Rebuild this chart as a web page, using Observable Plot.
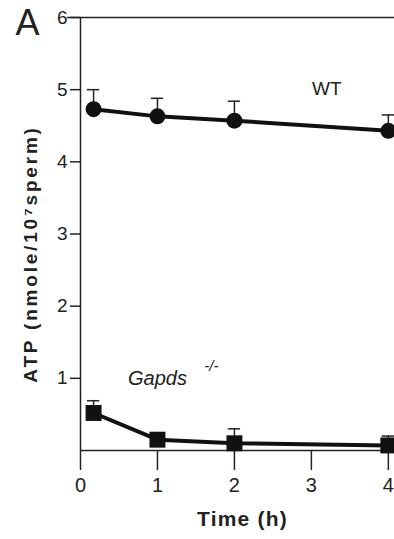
<!DOCTYPE html>
<html>
<head>
<meta charset="utf-8">
<script src="https://cdn.jsdelivr.net/npm/d3@7"></script>
<script src="https://cdn.jsdelivr.net/npm/@observablehq/plot@0.6"></script>
<style>
  html, body { margin: 0; padding: 0; background: #fff; }
  #chart svg { display: block; }
  .ylab text { letter-spacing: 2.8px; }
  .xlab text { letter-spacing: 1.2px; }
</style>
</head>
<body>
<div id="chart"></div>
<script>
const times = [0.17, 1, 2, 4];
const wtMean = [4.73, 4.63, 4.57, 4.43];
const wtErr = [0.27, 0.25, 0.27, 0.22];
const koMean = [0.52, 0.15, 0.1, 0.07];
const koErr = [0.17, 0.06, 0.2, 0.13];
const xTicks = [0, 1, 2, 3, 4];
const yTicks = [1, 2, 3, 4, 5, 6];

const wt = times.map((t, i) => ({t, v: wtMean[i], e: wtErr[i]}));
const ko = times.map((t, i) => ({t, v: koMean[i], e: koErr[i]}));
const font = "Liberation Sans, Arial, Helvetica, sans-serif";
const capW = 0.08;
const fmt = d3.format("d");

const plot = Plot.plot({
  width: 394,
  height: 539,
  marginLeft: 80,
  marginRight: 0,
  marginTop: 17,
  marginBottom: 89,
  style: {fontFamily: font, fontSize: "17px", background: "#fff", color: "#222"},
  x: {domain: [0, 4.08], range: [80, 394]},
  y: {domain: [0, 6]},
  marks: [
    Plot.ruleY([0], {x1: 0, x2: 4.08, stroke: "#222", strokeWidth: 1.5}),
    Plot.ruleY([6], {x1: -0.17, x2: 4.08, stroke: "#222", strokeWidth: 1.5}),
    Plot.ruleX([0], {y1: 0, y2: 6, stroke: "#222", strokeWidth: 1.5}),
    Plot.axisX({ticks: xTicks, tickFormat: fmt, tickSize: 20, tickPadding: 7, fontSize: 20, label: null, strokeWidth: 1.5}),
    Plot.axisY({ticks: yTicks, tickFormat: fmt, tickSize: 10, tickPadding: 3, fontSize: 19, label: null, strokeWidth: 1.5}),
    // error bars (upper only)
    Plot.ruleX(wt, {x: "t", y1: "v", y2: d => d.v + d.e, stroke: "#222", strokeWidth: 1.5}),
    Plot.ruleY(wt, {y: d => d.v + d.e, x1: d => d.t - capW, x2: d => d.t + capW, stroke: "#222", strokeWidth: 1.5}),
    Plot.ruleX(ko, {x: "t", y1: "v", y2: d => d.v + d.e, stroke: "#222", strokeWidth: 1.5}),
    Plot.ruleY(ko, {y: d => d.v + d.e, x1: d => d.t - capW, x2: d => d.t + capW, stroke: "#222", strokeWidth: 1.5}),
    // lines
    Plot.line(wt, {x: "t", y: "v", stroke: "#111", strokeWidth: 4}),
    Plot.line(ko, {x: "t", y: "v", stroke: "#111", strokeWidth: 4}),
    Plot.dot(wt, {x: "t", y: "v", r: 8, fill: "#111", stroke: "none"}),
    Plot.dot(ko, {x: "t", y: "v", r: 9, symbol: "square", fill: "#111", stroke: "none"}),
    // labels
    Plot.text(["WT"], {x: 3.2, y: 5.01, fontSize: 19, fill: "#222"}),
    Plot.text(["Gapds"], {x: 1.0, y: 0.99, fontSize: 20, fontStyle: "italic", fill: "#222"}),
    Plot.text(["-/-"], {x: 1.7, y: 1.17, fontSize: 15, fontStyle: "italic", fill: "#222"}),
    Plot.text(["ATP (nmole/10⁷sperm)"], {frameAnchor: "left", textAnchor: "middle", rotate: -90, dx: -50, dy: 20, fontSize: 19, fontWeight: "bold", fill: "#222", className: "ylab"}),
    Plot.text(["Time (h)"], {frameAnchor: "bottom", dx: 5, dy: 75, fontSize: 21, fontWeight: "bold", fill: "#222", className: "xlab"}),
    Plot.text(["A"], {frameAnchor: "top-left", dx: -65, dy: -8, fontSize: 36, fill: "#222"})
  ]
});
document.getElementById("chart").appendChild(plot);
</script>
</body>
</html>
